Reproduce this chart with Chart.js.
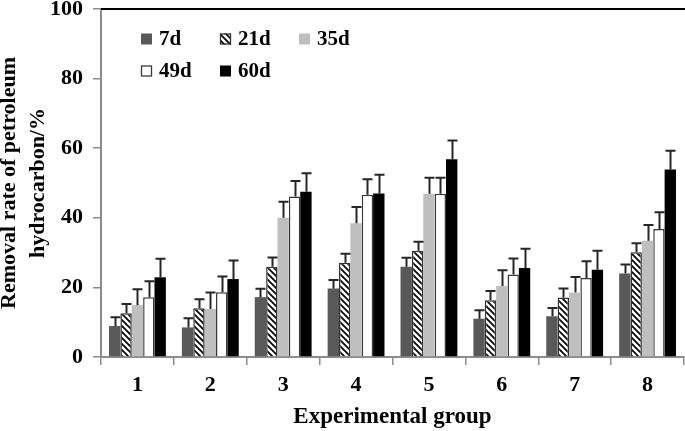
<!DOCTYPE html>
<html><head><meta charset="utf-8">
<script src="https://cdn.jsdelivr.net/npm/chart.js@4.4.1/dist/chart.umd.min.js"></script>
<style>html,body{margin:0;padding:0;background:#fff;overflow:hidden}#c{display:block}</style>
</head><body>
<canvas id="c" width="685" height="431"></canvas>
<script>
// ---- data ----
const categories = ['1','2','3','4','5','6','7','8'];
const seriesNames = ['7d','21d','35d','49d','60d'];
const v7d  = [8.9, 8.5, 17.2, 19.7, 25.9, 11.0, 11.7, 24.0];
const v21d = [12.6, 14.0, 25.9, 27.1, 30.5, 16.3, 17.1, 30.1];
const v35d = [14.9, 13.8, 40.0, 38.4, 46.9, 20.4, 18.5, 33.4];
const v49d = [17.2, 18.6, 46.1, 46.6, 46.9, 23.7, 22.7, 36.8];
const v60d = [22.9, 22.4, 47.5, 47.0, 56.8, 25.6, 25.1, 53.9];
const e7d  = [2.5, 2.6, 2.4, 2.4, 2.6, 2.4, 2.4, 2.6];
const e21d = [2.6, 2.6, 2.7, 2.6, 2.6, 2.7, 2.6, 2.6];
const e35d = [4.6, 4.7, 4.6, 4.7, 4.6, 4.5, 4.5, 4.5];
const e49d = [4.6, 4.5, 4.5, 4.5, 4.6, 4.6, 4.8, 4.8];
const e60d = [5.3, 5.3, 5.3, 5.4, 5.4, 5.5, 5.4, 5.4];
const yMin = 0, yMax = 100, yStep = 20;

const F = '"Liberation Serif", "Times New Roman", serif';
const canvas = document.getElementById('c');
const ctx = canvas.getContext('2d');

function hatchPattern() {
  const s = 6;
  const p = document.createElement('canvas');
  p.width = s; p.height = s;
  const g = p.getContext('2d');
  g.fillStyle = '#fff'; g.fillRect(0, 0, s, s);
  g.strokeStyle = '#000'; g.lineWidth = 1.7;
  g.beginPath();
  g.moveTo(-1, -1); g.lineTo(s + 1, s + 1);
  g.moveTo(-1, s - 1); g.lineTo(1, s + 1);
  g.moveTo(s - 1, -1); g.lineTo(s + 1, 1);
  g.stroke();
  return ctx.createPattern(p, 'repeat');
}
const hatch = hatchPattern();

const values = [v7d, v21d, v35d, v49d, v60d];
const errors = [e7d, e21d, e35d, e49d, e60d];
const fills = ['#595959', hatch, '#bfbfbf', '#ffffff', '#000000'];
const borders = ['#595959', '#333333', '#bfbfbf', '#3a3a3a', '#000000'];
const borderW = [0, 1.5, 0, 1.5, 0];

const datasets = seriesNames.map((n, i) => ({
  label: n,
  data: values[i],
  errors: errors[i],
  backgroundColor: fills[i],
  borderColor: borders[i],
  borderWidth: borderW[i],
  categoryPercentage: 0.78,
  barPercentage: 1.0
}));

const errorBars = {
  id: 'errorBars',
  afterDatasetsDraw(chart) {
    const c = chart.ctx, ys = chart.scales.y;
    c.save();
    c.strokeStyle = '#262626';
    c.lineWidth = 2;
    chart.data.datasets.forEach((ds, di) => {
      const meta = chart.getDatasetMeta(di);
      meta.data.forEach((bar, i) => {
        const top = ys.getPixelForValue(ds.data[i] + ds.errors[i]);
        const x = Math.round(bar.x) + 0.5;
        c.beginPath();
        c.moveTo(x, bar.y);
        c.lineTo(x, top);
        c.moveTo(x - 5, top);
        c.lineTo(x + 5, top);
        c.stroke();
      });
    });
    c.restore();
  }
};

const frame = {
  id: 'frame',
  afterDraw(chart) {
    const c = chart.ctx, a = chart.chartArea;
    c.save();
    c.strokeStyle = '#000';
    c.lineWidth = 2;
    c.beginPath();
    c.moveTo(a.left, a.top);
    c.lineTo(chart.width, a.top);
    c.stroke();
    c.restore();
  }
};

const legendCols = [141, 220, 299];
const legendRows = [39, 71];
const customLegend = {
  id: 'customLegend',
  afterDraw(chart) {
    const c = chart.ctx;
    c.save();
    c.font = 'bold 21px ' + F;
    c.textBaseline = 'middle';
    c.textAlign = 'left';
    chart.data.datasets.forEach((ds, i) => {
      const x = legendCols[i % 3], y = legendRows[Math.floor(i / 3)];
      c.fillStyle = ds.backgroundColor;
      c.fillRect(x, y - 5.5, 11, 11);
      if (ds.borderWidth) {
        c.strokeStyle = ds.borderColor;
        c.lineWidth = 1.3;
        c.strokeRect(x + 0.5, y - 5, 10, 10);
      }
      c.fillStyle = '#000';
      c.fillText(ds.label, x + 18, y + 1);
    });
    c.restore();
  }
};

new Chart(ctx, {
  type: 'bar',
  data: { labels: categories, datasets },
  plugins: [errorBars, frame, customLegend],
  options: {
    responsive: false,
    animation: false,
    devicePixelRatio: 1,
    layout: { padding: { top: 0, right: 1, left: 0, bottom: 0 } },
    plugins: { legend: { display: false }, tooltip: { enabled: false } },
    scales: {
      x: {
        grid: { offset: true, drawOnChartArea: false, tickLength: 8, color: '#8c8c8c', lineWidth: 1.5 },
        border: { color: '#8c8c8c', width: 2 },
        ticks: { font: { family: F, size: 22, weight: 'bold' }, color: '#000', padding: 7 },
        title: { display: true, text: 'Experimental group', font: { family: F, size: 23, weight: 'bold' }, color: '#000', padding: { top: 0, bottom: 0 } },
        afterFit(s) { s.height = 74; }
      },
      y: {
        min: yMin, max: yMax,
        ticks: { stepSize: yStep, font: { family: F, size: 22, weight: 'bold' }, color: '#000', padding: 10 },
        grid: { drawOnChartArea: false, tickLength: 8, color: '#8c8c8c', lineWidth: 1.5 },
        border: { color: '#8c8c8c', width: 2 },
        title: { display: true, text: ['Removal rate of petroleum', 'hydrocarbon/%'], font: { family: F, size: 22, weight: 'bold', lineHeight: 1.3 }, color: '#000', padding: { top: -5, bottom: 0 } },
        afterFit(s) { s.width = 101; s.paddingTop = 9; s.paddingBottom = 0; }
      }
    }
  }
});
</script>
</body></html>
